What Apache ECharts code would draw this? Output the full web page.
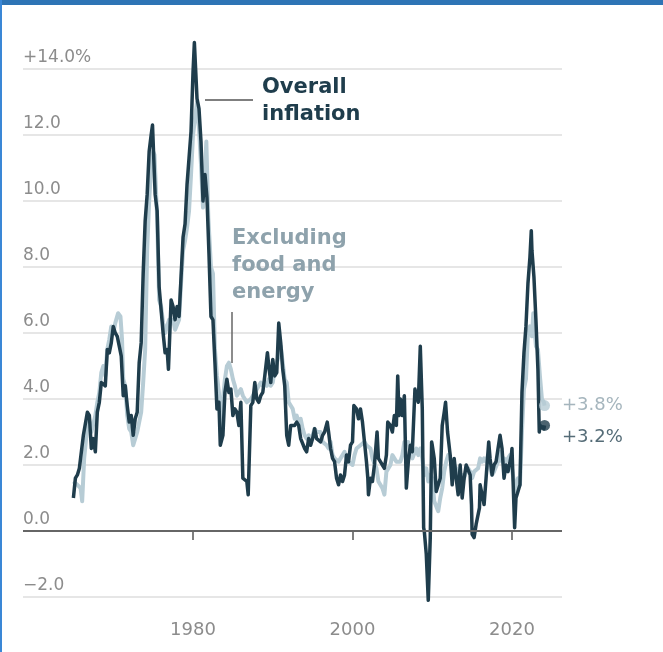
<!DOCTYPE html>
<html>
<head>
<meta charset="utf-8">
<script src="https://cdn.jsdelivr.net/npm/echarts@6/dist/echarts.min.js"></script>
<style>
html,body{margin:0;padding:0;background:#fff;}
#c{width:663px;height:652px;}
</style>
</head>
<body>
<div id="c"></div>
<script>
// Year-over-year change in consumer prices, percent
const overall = [
[1965.0,1.0],[1965.25,1.6],[1965.5,1.7],[1965.75,1.9],[1966.0,1.9],[1966.25,2.9],[1966.5,2.9],[1966.75,3.6],
[1967.0,3.5],[1967.25,2.5],[1967.5,2.8],[1967.75,2.4],[1968.0,3.6],[1968.25,3.9],[1968.5,4.5],[1968.75,4.5],
[1969.0,4.4],[1969.25,5.5],[1969.5,5.4],[1969.75,5.7],[1970.0,6.2],[1970.25,6.0],[1970.5,5.9],[1970.75,5.6],
[1971.0,5.3],[1971.25,4.1],[1971.5,4.4],[1971.75,3.8],[1972.0,3.3],[1972.25,3.5],[1972.5,2.9],[1972.75,3.4],
[1973.0,3.6],[1973.25,5.1],[1973.5,5.7],[1973.75,7.8],[1974.0,9.4],[1974.25,10.2],[1974.5,11.5],[1974.75,12.0],
[1974.92,12.3],[1975.25,10.2],[1975.5,9.7],[1975.75,7.4],[1976.0,6.7],[1976.25,6.0],[1976.5,5.4],[1976.75,5.5],
[1976.92,4.9],[1977.25,7.0],[1977.5,6.8],[1977.75,6.4],[1978.0,6.8],[1978.25,6.5],[1978.5,7.7],[1978.75,8.9],
[1979.0,9.3],[1979.25,10.5],[1979.5,11.3],[1979.75,12.1],[1980.0,13.9],[1980.17,14.8],[1980.5,13.1],[1980.75,12.8],
[1981.0,11.8],[1981.25,10.0],[1981.5,10.8],[1981.75,10.1],[1982.0,8.4],[1982.25,6.5],[1982.5,6.4],[1982.75,5.1],
[1983.0,3.7],[1983.25,3.9],[1983.42,2.6],[1983.75,2.9],[1984.0,4.2],[1984.25,4.6],[1984.5,4.2],[1984.75,4.3],
[1985.0,3.5],[1985.25,3.7],[1985.5,3.6],[1985.75,3.2],[1986.0,3.9],[1986.25,1.6],[1986.5,1.6],[1986.75,1.5],
[1986.92,1.1],[1987.25,3.8],[1987.5,3.9],[1987.75,4.5],[1988.0,4.0],[1988.25,3.9],[1988.5,4.1],[1988.75,4.2],
[1989.0,4.7],[1989.33,5.4],[1989.5,5.0],[1989.75,4.5],[1990.0,5.2],[1990.25,4.7],[1990.5,4.8],[1990.75,6.3],
[1991.0,5.7],[1991.25,4.9],[1991.5,4.4],[1991.75,2.9],[1992.0,2.6],[1992.25,3.2],[1992.5,3.2],[1992.75,3.2],
[1993.0,3.3],[1993.25,3.2],[1993.5,2.8],[1993.75,2.8],[1994.0,2.5],[1994.25,2.4],[1994.5,2.8],[1994.75,2.6],
[1995.0,2.8],[1995.25,3.1],[1995.5,2.8],[1995.75,2.8],[1996.0,2.7],[1996.25,2.9],[1996.5,3.0],[1996.83,3.3],
[1997.0,3.0],[1997.25,2.5],[1997.5,2.2],[1997.75,2.1],[1998.0,1.6],[1998.25,1.4],[1998.5,1.7],[1998.75,1.5],
[1999.0,1.7],[1999.25,2.3],[1999.5,2.1],[1999.75,2.6],[2000.0,2.7],[2000.17,3.8],[2000.5,3.7],[2000.75,3.4],
[2001.0,3.7],[2001.25,3.3],[2001.5,2.7],[2001.75,2.1],[2001.92,1.6],[2002.0,1.1],[2002.25,1.6],[2002.5,1.5],
[2002.75,2.0],[2003.08,3.0],[2003.25,2.2],[2003.5,2.1],[2003.75,2.0],[2004.0,1.9],[2004.25,2.3],[2004.42,3.3],
[2004.75,3.2],[2005.0,3.0],[2005.25,3.5],[2005.5,3.2],[2005.67,4.7],[2005.83,3.5],[2006.0,4.0],[2006.25,3.5],
[2006.5,4.1],[2006.75,1.3],[2007.0,2.1],[2007.25,2.6],[2007.5,2.4],[2007.83,4.3],[2008.0,4.3],[2008.25,3.9],
[2008.5,5.6],[2008.75,3.7],[2008.92,0.1],[2009.0,0.0],[2009.25,-0.7],[2009.5,-2.1],[2009.75,-0.2],[2009.92,2.7],
[2010.0,2.6],[2010.25,2.2],[2010.5,1.2],[2010.75,1.2],[2011.0,1.6],[2011.25,3.2],[2011.5,3.6],[2011.67,3.9],
[2011.92,3.0],[2012.25,2.3],[2012.5,1.4],[2012.75,2.2],[2013.0,1.6],[2013.25,1.1],[2013.5,2.0],[2013.75,1.0],
[2014.0,1.6],[2014.25,2.0],[2014.5,2.0],[2014.75,1.7],[2014.92,0.8],[2015.0,-0.1],[2015.25,-0.2],[2015.5,0.2],
[2015.75,0.2],[2015.92,0.7],[2016.0,1.4],[2016.25,1.1],[2016.5,0.8],[2016.75,1.6],[2017.08,2.7],[2017.25,2.2],
[2017.5,1.7],[2017.75,2.0],[2018.0,2.1],[2018.25,2.5],[2018.5,2.9],[2018.75,2.5],[2019.0,1.6],[2019.25,2.0],
[2019.5,1.8],[2019.75,1.8],[2019.92,2.3],[2020.0,2.5],[2020.33,0.1],[2020.5,1.0],[2020.75,1.2],[2021.0,1.4],
[2021.25,4.2],[2021.5,5.4],[2021.75,6.2],[2022.0,7.5],[2022.25,8.3],[2022.42,9.1],[2022.5,8.5],[2022.75,7.7],
[2023.0,6.4],[2023.25,4.9],[2023.42,3.0],[2023.5,3.2],[2023.75,3.2],[2024.0,3.1],[2024.08,3.2]
];

const core = [
[1965.0,1.5],[1965.5,1.4],[1965.9,1.3],[1966.1,0.9],[1966.35,2.2],[1966.6,2.8],[1966.9,3.5],[1967.25,3.0],
[1967.5,3.0],[1967.75,3.5],[1968.0,3.9],[1968.25,4.2],[1968.5,4.8],[1968.75,5.0],[1969.0,4.7],[1969.25,5.5],
[1969.5,5.8],[1969.75,6.2],[1970.0,6.0],[1970.25,6.3],[1970.6,6.6],[1970.9,6.5],[1971.1,5.8],[1971.25,4.6],
[1971.5,4.4],[1971.75,3.5],[1972.0,3.1],[1972.25,3.0],[1972.5,2.6],[1972.75,2.8],[1973.0,3.0],[1973.25,3.3],
[1973.5,3.6],[1973.75,4.5],[1974.0,5.5],[1974.25,8.5],[1974.5,10.0],[1974.75,11.0],[1975.0,11.5],[1975.17,11.4],
[1975.5,9.5],[1975.75,7.0],[1976.0,6.8],[1976.25,6.3],[1976.5,6.0],[1976.75,6.2],[1977.0,6.4],[1977.25,6.4],
[1977.5,6.4],[1977.75,6.1],[1978.0,6.1],[1978.25,6.4],[1978.5,7.5],[1978.75,8.5],[1979.0,8.8],[1979.25,9.2],
[1979.5,9.7],[1979.75,10.8],[1980.0,12.0],[1980.25,12.5],[1980.5,13.0],[1980.75,12.2],[1981.0,11.1],[1981.25,9.8],
[1981.5,11.0],[1981.67,11.8],[1981.92,9.5],[1982.25,8.0],[1982.5,7.8],[1982.75,5.5],[1983.0,4.7],[1983.25,4.2],
[1983.5,3.0],[1983.75,4.0],[1984.0,4.6],[1984.25,5.0],[1984.5,5.1],[1984.75,4.9],[1985.0,4.6],[1985.25,4.4],
[1985.5,4.1],[1985.75,4.2],[1986.0,4.3],[1986.25,4.1],[1986.5,4.0],[1986.75,3.9],[1987.0,3.9],[1987.25,4.0],
[1987.5,4.1],[1987.75,4.2],[1988.0,4.3],[1988.25,4.3],[1988.5,4.5],[1988.75,4.4],[1989.0,4.5],[1989.25,4.4],
[1989.5,4.6],[1989.75,4.4],[1990.0,4.5],[1990.25,4.9],[1990.5,5.1],[1990.75,5.3],[1991.0,5.6],[1991.25,5.1],
[1991.5,4.6],[1991.75,4.5],[1992.0,3.9],[1992.25,3.9],[1992.5,3.7],[1992.75,3.4],[1993.0,3.5],[1993.25,3.3],
[1993.5,3.4],[1993.75,3.1],[1994.0,2.9],[1994.25,2.8],[1994.5,2.9],[1994.75,2.8],[1995.0,2.9],[1995.25,3.1],
[1995.5,3.0],[1995.75,3.0],[1996.0,3.0],[1996.25,2.7],[1996.5,2.7],[1996.75,2.6],[1997.0,2.5],[1997.25,2.7],
[1997.5,2.3],[1997.75,2.2],[1998.0,2.2],[1998.25,2.1],[1998.5,2.2],[1998.75,2.3],[1999.0,2.4],[1999.25,2.2],
[1999.5,2.1],[1999.75,2.1],[2000.0,2.0],[2000.25,2.3],[2000.5,2.5],[2000.75,2.5],[2001.0,2.6],[2001.25,2.6],
[2001.5,2.7],[2001.75,2.6],[2002.0,2.6],[2002.25,2.5],[2002.5,2.2],[2002.75,2.2],[2003.0,1.9],[2003.25,1.5],
[2003.5,1.5],[2003.75,1.3],[2004.0,1.1],[2004.25,1.8],[2004.5,1.8],[2004.75,2.0],[2005.0,2.3],[2005.25,2.2],
[2005.5,2.1],[2005.75,2.1],[2006.0,2.1],[2006.25,2.3],[2006.5,2.7],[2006.75,2.7],[2007.0,2.7],[2007.25,2.4],
[2007.5,2.2],[2007.75,2.2],[2008.0,2.5],[2008.25,2.3],[2008.5,2.5],[2008.75,2.2],[2009.0,1.7],[2009.25,1.9],
[2009.5,1.5],[2009.75,1.7],[2010.0,1.6],[2010.25,0.9],[2010.5,0.9],[2010.75,0.6],[2011.0,1.0],[2011.25,1.3],
[2011.5,1.8],[2011.75,2.1],[2012.0,2.3],[2012.25,2.3],[2012.5,2.1],[2012.75,2.0],[2013.0,1.9],[2013.25,1.7],
[2013.5,1.7],[2013.75,1.7],[2014.0,1.6],[2014.25,1.8],[2014.5,1.9],[2014.75,1.8],[2015.0,1.6],[2015.25,1.8],
[2015.5,1.8],[2015.75,1.9],[2016.0,2.2],[2016.25,2.1],[2016.5,2.2],[2016.75,2.1],[2017.0,2.3],[2017.25,1.9],
[2017.5,1.7],[2017.75,1.8],[2018.0,1.8],[2018.25,2.1],[2018.5,2.4],[2018.75,2.1],[2019.0,2.2],[2019.25,2.1],
[2019.5,2.2],[2019.75,2.3],[2020.0,2.3],[2020.42,1.2],[2020.75,1.6],[2021.0,1.4],[2021.25,3.0],[2021.5,4.3],
[2021.75,4.6],[2022.0,6.0],[2022.25,6.2],[2022.5,5.9],[2022.67,6.6],[2023.0,5.6],[2023.25,5.5],[2023.5,4.7],
[2023.75,4.0],[2024.0,3.9],[2024.08,3.8]
];

const xTickYears = [1980, 2000, 2020];
const yTickLabels = {14: '+14.0%', 12: '12.0', 10: '10.0', 8: '8.0', 6: '6.0', 4: '4.0', 2: '2.0', 0: '0.0', '-2': '\u22122.0'};
const endLabels = { core: '+3.8%', overall: '+3.2%' };

const DARK = '#1f3d4c';
const LIGHT = '#b7ccd5';
const LIGHT_TEXT = '#8ea2ac';
const GRAY = '#8c8c8c';
const FONT = 'DejaVu Sans';

const chart = echarts.init(document.getElementById('c'), null, {renderer: 'canvas'});
chart.setOption({
  animation: false,
  backgroundColor: '#ffffff',
  grid: { left: 23, right: 101, top: 69, bottom: 55, containLabel: false },
  xAxis: {
    type: 'value', min: 1958.68, max: 2026.27,
    axisLine: { show: false },
    splitLine: { show: false },
    axisTick: { show: true, customValues: xTickYears, length: 9, lineStyle: { color: '#555', width: 1.5 } },
    axisLabel: { customValues: xTickYears, color: GRAY, fontFamily: FONT, fontSize: 18, margin: 24,
      formatter: v => String(v) }
  },
  yAxis: {
    type: 'value', min: -2, max: 14, interval: 2,
    axisLine: { show: false }, axisTick: { show: false },
    splitLine: { show: true, lineStyle: { color: '#e6e6e6', width: 2 } },
    axisLabel: { inside: true, margin: 0, align: 'left', verticalAlign: 'bottom', padding: [0,0,3,0],
      color: GRAY, fontFamily: FONT, fontSize: 17,
      formatter: v => yTickLabels[v] !== undefined ? yTickLabels[v] : '' }
  },
  series: [
    { type: 'line', data: core, symbol: 'none', clip: false, z: 2,
      lineStyle: { color: LIGHT, width: 4, join: 'round' },
      markLine: { silent: true, symbol: 'none', label: { show: false },
        lineStyle: { color: '#666', width: 2, type: 'solid' },
        data: [[{ coord: [1958.68, 0] }, { coord: [2026.27, 0] }]] } },
    { type: 'line', data: overall, symbol: 'none', clip: false, z: 3,
      lineStyle: { color: DARK, width: 3.5, join: 'round' } },
    { type: 'scatter', data: [core[core.length - 1]], symbolSize: 11, z: 4,
      itemStyle: { color: LIGHT },
      label: { show: true, position: 'right', distance: 12, formatter: endLabels.core,
        color: LIGHT_TEXT, fontFamily: FONT, fontSize: 18 } },
    { type: 'scatter', data: [overall[overall.length - 1]], symbolSize: 11, z: 5,
      itemStyle: { color: DARK },
      label: { show: true, position: 'right', distance: 12, offset: [0, 12], formatter: endLabels.overall,
        color: '#2b4755', fontFamily: FONT, fontSize: 18 } }
  ],
  graphic: [
    { type: 'rect', shape: { x: 0, y: 0, width: 663, height: 5 }, style: { fill: '#2e74b5' }, z: 100 },
    { type: 'rect', shape: { x: 0, y: 0, width: 2, height: 652 }, style: { fill: '#3a87d6' }, z: 100 },
    { type: 'line', shape: { x1: 205, y1: 100, x2: 253, y2: 100 }, style: { stroke: '#555', lineWidth: 1.5 }, z: 50 },
    { type: 'text', x: 262, y: 88, style: { text: 'Overall', fill: DARK, font: 'bold 21px "DejaVu Sans"', verticalAlign: 'middle' }, z: 50 },
    { type: 'text', x: 262, y: 115, style: { text: 'inflation', fill: DARK, font: 'bold 21px "DejaVu Sans"', verticalAlign: 'middle' }, z: 50 },
    { type: 'line', shape: { x1: 232, y1: 312, x2: 232, y2: 363 }, style: { stroke: '#666', lineWidth: 1.5 }, z: 50 },
    { type: 'text', x: 232, y: 239, style: { text: 'Excluding', fill: LIGHT_TEXT, font: 'bold 21px "DejaVu Sans"', verticalAlign: 'middle' }, z: 50 },
    { type: 'text', x: 232, y: 266, style: { text: 'food and', fill: LIGHT_TEXT, font: 'bold 21px "DejaVu Sans"', verticalAlign: 'middle' }, z: 50 },
    { type: 'text', x: 232, y: 293, style: { text: 'energy', fill: LIGHT_TEXT, font: 'bold 21px "DejaVu Sans"', verticalAlign: 'middle' }, z: 50 }
  ]
});
</script>
</body>
</html>
